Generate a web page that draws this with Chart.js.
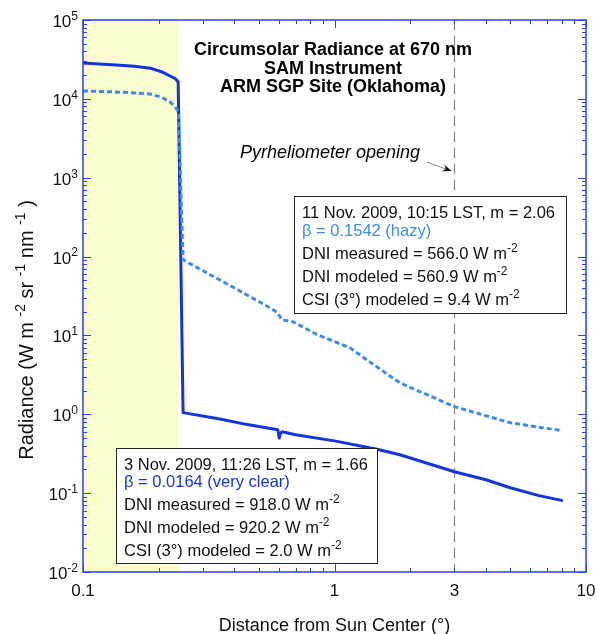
<!DOCTYPE html>
<html lang="en">
<head>
  <meta charset="UTF-8">
  <title>Circumsolar Radiance</title>
  <script src="https://cdn.jsdelivr.net/npm/chart.js"></script>
  <style>
    body { margin: 0; background: #fff; }
    canvas { display: block; }
  </style>
</head>
<body>
  <canvas id="chart" width="597" height="634"></canvas>

  <script>
    // 3 Nov. 2009 (very clear) - solid dark blue
    const clearX = [0.1, 0.13, 0.16, 0.185, 0.205, 0.222, 0.232, 0.239, 0.25, 0.35, 0.45, 0.595, 0.603, 0.61, 0.62, 0.7, 1.0, 1.476, 1.82, 3, 4, 5, 6.5, 8];
    const clearY = [28500, 27000, 25900, 24500, 22100, 19500, 18200, 16400, 1.05, 0.87, 0.74, 0.635, 0.5, 0.58, 0.6, 0.55, 0.46, 0.36, 0.307, 0.187, 0.148, 0.117, 0.093, 0.081];

    // 11 Nov. 2009 (hazy) - dashed light blue
    const hazyX = [0.1, 0.13, 0.16, 0.185, 0.205, 0.222, 0.232, 0.24, 0.2445, 0.25, 0.3, 0.4, 0.554, 0.595, 0.618, 0.684, 0.85, 1.152, 1.38, 1.82, 3, 5, 8];
    const hazyY = [12600, 12300, 11900, 11500, 10500, 9100, 8000, 6800, 850, 91, 66, 40, 22.4, 19.3, 15.8, 14.9, 10.3, 6.97, 4.62, 2.5, 1.25, 0.78, 0.62];

    const xMajor = [0.1, 1, 10];
    const xTickLabels = [[0.1, '0.1'], [1, '1'], [3, '3'], [10, '10']];
    const yExponents = [-2, -1, 0, 1, 2, 3, 4, 5];
    const shadeEnd = 0.24;      // edge of the shaded (solar disk) region
    const pyrhelioX = 3;        // pyrheliometer opening

    const axisBlue = '#2646e6';
    const clearColor = '#1434e0';
    const hazyColor = '#3a8cf2';
    const FONT = '"Liberation Sans", Arial, Helvetica, sans-serif';

    // draw a line made of [text, isSuperscript] pieces
    function pieceWidth(ctx, parts, size) {
      let w = 0;
      parts.forEach(([t, sup]) => {
        ctx.font = (sup ? Math.round(size * 0.7) : size) + 'px ' + FONT;
        w += ctx.measureText(t).width;
      });
      return w;
    }
    function drawPieces(ctx, parts, x, y, size, color) {
      ctx.fillStyle = color;
      ctx.textBaseline = 'alphabetic';
      ctx.textAlign = 'left';
      parts.forEach(([t, sup]) => {
        const s = sup ? Math.round(size * 0.7) : size;
        ctx.font = s + 'px ' + FONT;
        ctx.fillText(t, x, sup ? y - size * 0.42 : y);
        x += ctx.measureText(t).width;
      });
    }

    function drawBox(ctx, x, y, w, h, lines) {
      ctx.save();
      ctx.fillStyle = '#fff';
      ctx.fillRect(x, y, w, h);
      ctx.strokeStyle = '#222';
      ctx.lineWidth = 1;
      ctx.strokeRect(x + 0.5, y + 0.5, w, h);
      lines.forEach(l => drawPieces(ctx, l.parts, x + 8, y + l.dy, 16.5, l.color || '#111'));
      ctx.restore();
    }

    const annotations = {
      id: 'annotations',
      beforeDatasetsDraw(chart) {
        const { ctx, chartArea: a, scales: { x } } = chart;
        ctx.save();
        // shaded region
        ctx.fillStyle = '#fbfbd0';
        ctx.fillRect(a.left, a.top, x.getPixelForValue(shadeEnd) - a.left, a.bottom - a.top);
        // pyrheliometer line
        const px = Math.round(x.getPixelForValue(pyrhelioX)) + 0.5;
        ctx.strokeStyle = '#8c8c8c';
        ctx.lineWidth = 1.3;
        ctx.setLineDash([10, 6]);
        ctx.beginPath();
        ctx.moveTo(px, a.top);
        ctx.lineTo(px, a.bottom);
        ctx.stroke();
        ctx.restore();
      },
      afterDatasetsDraw(chart) {
        const { ctx, chartArea: a, scales: { x, y } } = chart;
        ctx.save();

        // title
        ctx.fillStyle = '#000';
        ctx.font = 'bold 18px ' + FONT;
        ctx.textAlign = 'center';
        ctx.textBaseline = 'alphabetic';
        ctx.fillText('Circumsolar Radiance at 670 nm', 333, 55);
        ctx.fillText('SAM Instrument', 333, 74);
        ctx.fillText('ARM SGP Site (Oklahoma)', 333, 92);

        // pyrheliometer label + arrow
        ctx.font = 'italic 18px ' + FONT;
        ctx.textAlign = 'left';
        ctx.fillText('Pyrheliometer opening', 240, 158);
        const tipX = x.getPixelForValue(pyrhelioX) - 3;
        ctx.strokeStyle = '#888';
        ctx.lineWidth = 1;
        ctx.beginPath();
        ctx.moveTo(427, 162);
        ctx.lineTo(tipX, 171);
        ctx.stroke();
        const ang = Math.atan2(171 - 162, tipX - 427);
        ctx.fillStyle = '#111';
        ctx.beginPath();
        ctx.moveTo(tipX, 171);
        ctx.lineTo(tipX - 9 * Math.cos(ang) + 3.5 * Math.sin(ang), 171 - 9 * Math.sin(ang) - 3.5 * Math.cos(ang));
        ctx.lineTo(tipX - 6 * Math.cos(ang), 171 - 6 * Math.sin(ang));
        ctx.lineTo(tipX - 9 * Math.cos(ang) - 3.5 * Math.sin(ang), 171 - 9 * Math.sin(ang) + 3.5 * Math.cos(ang));
        ctx.closePath();
        ctx.fill();

        // info boxes
        drawBox(ctx, 294, 196, 272, 117, [
          { dy: 22, parts: [['11 Nov. 2009, 10:15 LST, m = 2.06', false]] },
          { dy: 40, parts: [['\u03b2 = 0.1542 (hazy)', false]], color: hazyColor },
          { dy: 63, parts: [['DNI measured = 566.0 W m', false], ['-2', true]] },
          { dy: 86, parts: [['DNI modeled = 560.9 W m', false], ['-2', true]] },
          { dy: 109, parts: [['CSI (3\u00b0) modeled = 9.4 W m', false], ['-2', true]] }
        ]);
        drawBox(ctx, 116, 448, 261, 115, [
          { dy: 22, parts: [['3 Nov. 2009, 11:26 LST, m = 1.66', false]] },
          { dy: 39, parts: [['\u03b2 = 0.0164 (very clear)', false]], color: clearColor },
          { dy: 62, parts: [['DNI measured = 918.0 W m', false], ['-2', true]] },
          { dy: 85, parts: [['DNI modeled = 920.2 W m', false], ['-2', true]] },
          { dy: 108, parts: [['CSI (3\u00b0) modeled = 2.0 W m', false], ['-2', true]] }
        ]);

        // frame
        ctx.strokeStyle = axisBlue;
        ctx.lineWidth = 1.5;
        ctx.strokeRect(a.left, a.top, a.right - a.left, a.bottom - a.top);

        // ticks (inward, all four sides)
        ctx.lineWidth = 1;
        ctx.beginPath();
        xMajor.slice(0, -1).forEach(d => {
          for (let m = 1; m <= 10; m++) {
            const px = Math.round(x.getPixelForValue(d * m)) + 0.5;
            const len = (m === 1 || m === 10) ? 8 : 4;
            ctx.moveTo(px, a.bottom); ctx.lineTo(px, a.bottom - len);
            ctx.moveTo(px, a.top); ctx.lineTo(px, a.top + len);
          }
        });
        yExponents.slice(0, -1).forEach(e => {
          for (let m = 1; m <= 10; m++) {
            const py = Math.round(y.getPixelForValue(Math.pow(10, e) * m)) + 0.5;
            const len = (m === 1 || m === 10) ? 8 : 4;
            ctx.moveTo(a.left, py); ctx.lineTo(a.left + len, py);
            ctx.moveTo(a.right, py); ctx.lineTo(a.right - len, py);
          }
        });
        ctx.stroke();

        // x tick labels
        ctx.fillStyle = '#111';
        ctx.font = '17px ' + FONT;
        ctx.textAlign = 'center';
        xTickLabels.forEach(([v, t]) => ctx.fillText(t, x.getPixelForValue(v), a.bottom + 24));

        // y tick labels 10^n
        yExponents.forEach(e => {
          const py = y.getPixelForValue(Math.pow(10, e));
          const parts = [['10', false], [String(e), true]];
          const w = pieceWidth(ctx, parts, 17);
          drawPieces(ctx, parts, a.left - 5 - w, py + 7, 17, '#111');
        });

        // axis titles
        ctx.font = '18px ' + FONT;
        ctx.textAlign = 'center';
        ctx.fillStyle = '#111';
        ctx.fillText('Distance from Sun Center (\u00b0)', (a.left + a.right) / 2, 631);

        const yt = [['Radiance (W m ', false], ['-2', true], [' sr ', false], ['-1', true], [' nm ', false], ['-1', true], [' )', false]];
        const tw = pieceWidth(ctx, yt, 20);
        ctx.translate(33, 330);
        ctx.rotate(-Math.PI / 2);
        drawPieces(ctx, yt, -tw / 2, 0, 20, '#111');
        ctx.restore();
      }
    };

    new Chart(document.getElementById('chart').getContext('2d'), {
      type: 'line',
      data: {
        datasets: [{
          label: '11 Nov. 2009 (hazy)',
          data: hazyX.map((v, i) => ({ x: v, y: hazyY[i] })),
          borderColor: hazyColor,
          borderWidth: 3,
          borderDash: [5, 3],
          pointRadius: 0,
          tension: 0
        }, {
          label: '3 Nov. 2009 (very clear)',
          data: clearX.map((v, i) => ({ x: v, y: clearY[i] })),
          borderColor: clearColor,
          borderWidth: 3,
          borderCapStyle: 'round',
          borderJoinStyle: 'round',
          pointRadius: 0,
          tension: 0
        }]
      },
      options: {
        responsive: false,
        animation: false,
        layout: { padding: { left: 83, right: 11, top: 20, bottom: 62 } },
        plugins: { legend: { display: false }, tooltip: { enabled: false } },
        scales: {
          x: {
            type: 'logarithmic', min: 0.1, max: 10,
            ticks: { display: false }, grid: { display: false, drawTicks: false }, border: { display: false },
            afterFit(s) { s.height = 0; }
          },
          y: {
            type: 'logarithmic', min: 0.01, max: 100000,
            ticks: { display: false }, grid: { display: false, drawTicks: false }, border: { display: false },
            afterFit(s) { s.width = 0; }
          }
        }
      },
      plugins: [annotations]
    });
  </script>
</body>
</html>
